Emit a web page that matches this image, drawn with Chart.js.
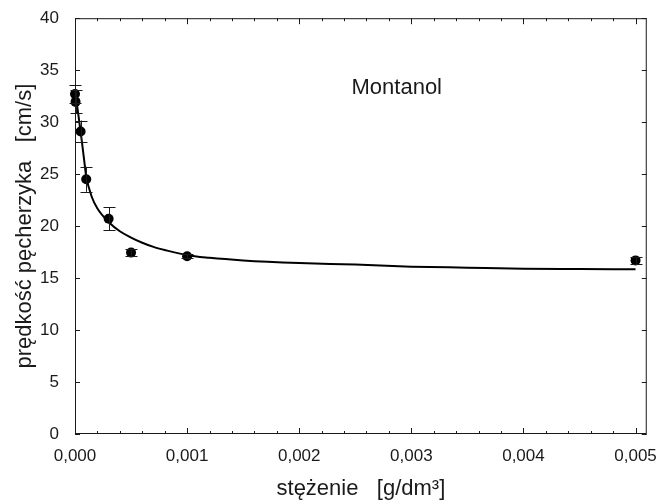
<!DOCTYPE html>
<html>
<head>
<meta charset="utf-8">
<script src="https://cdn.jsdelivr.net/npm/chart.js@4.4.0/dist/chart.umd.min.js"></script>
<style>
  body { margin: 0; background: #fff; }
  #wrap { width: 661px; height: 502px; }
</style>
</head>
<body>
<div id="wrap"><canvas id="chart" width="661" height="502"></canvas></div>
<script>
// measured points (concentration g/dm3, velocity cm/s, error)
const conc = [0, 0.000005, 0.00005, 0.0001, 0.0003, 0.0005, 0.001, 0.005];
const velocity = [32.7, 31.95, 29.1, 24.5, 20.7, 17.45, 17.1, 16.7];
const velocityErr = [0.9, 1.1, 1.05, 1.2, 1.1, 0.3, 0.2, 0.3];

// fitted curve
const fitConc = [0, 0.00001, 0.00002, 0.00005, 0.00008, 0.0001, 0.00015, 0.0002, 0.0003, 0.0004,
  0.0005, 0.0006, 0.0007, 0.0008, 0.001, 0.0012, 0.0015, 0.002, 0.0025, 0.003, 0.0035, 0.004, 0.0045, 0.005];
const fitVelocity = [33.0, 32.3, 31.5, 29.1, 26.5, 24.8, 22.8, 21.7, 20.4, 19.5,
  18.9, 18.4, 18.0, 17.7, 17.2, 16.95, 16.7, 16.45, 16.3, 16.1, 16.0, 15.9, 15.87, 15.85];

const xTicks = [0, 0.001, 0.002, 0.003, 0.004, 0.005];
const xTickLabels = ['0,000', '0,001', '0,002', '0,003', '0,004', '0,005'];
const yTicks = [0, 5, 10, 15, 20, 25, 30, 35, 40];

const FONT = "'Liberation Sans', Arial, sans-serif";
const INK = '#1a1a1a';

// frame, inward ticks, error bars and the label
const decor = {
  id: 'decor',
  afterDatasetsDraw(chart) {
    const { ctx, chartArea: a, scales: { x, y } } = chart;
    ctx.save();
    ctx.strokeStyle = INK;
    ctx.lineWidth = 1;

    // error bars
    conc.forEach((c, i) => {
      const px = Math.round(x.getPixelForValue(c)) + 0.5;
      const top = y.getPixelForValue(velocity[i] + velocityErr[i]);
      const bot = y.getPixelForValue(velocity[i] - velocityErr[i]);
      ctx.beginPath();
      ctx.moveTo(px, top); ctx.lineTo(px, bot);
      ctx.moveTo(px - 6, Math.round(top) + 0.5); ctx.lineTo(px + 6, Math.round(top) + 0.5);
      ctx.moveTo(px - 6, Math.round(bot) + 0.5); ctx.lineTo(px + 6, Math.round(bot) + 0.5);
      ctx.stroke();
    });

    // frame
    ctx.strokeRect(a.left + 0.5, a.top + 0.5, a.right - a.left - 1, a.bottom - a.top - 1);

    ctx.beginPath();
    // x ticks, bottom and top
    for (let v = 0; v <= 0.00501; v += 0.0002) {
      const px = Math.round(x.getPixelForValue(v)) + 0.5;
      const major = xTicks.some(t => Math.abs(t - v) < 1e-9);
      const len = major ? 6 : 3;
      ctx.moveTo(px, a.bottom); ctx.lineTo(px, a.bottom - len);
      ctx.moveTo(px, a.top); ctx.lineTo(px, a.top + len);
    }
    // y ticks, left and right
    yTicks.forEach(v => {
      const py = Math.round(y.getPixelForValue(v)) + 0.5;
      ctx.moveTo(a.left, py); ctx.lineTo(a.left + 5, py);
      ctx.moveTo(a.right, py); ctx.lineTo(a.right - 5, py);
    });
    ctx.stroke();

    ctx.fillStyle = INK;
    ctx.font = '22px ' + FONT;
    ctx.textAlign = 'center';
    ctx.textBaseline = 'middle';
    ctx.fillText('Montanol', x.getPixelForValue(0.00287), y.getPixelForValue(33.3));
    ctx.restore();
  }
};

new Chart(document.getElementById('chart'), {
  type: 'scatter',
  data: {
    datasets: [
      {
        label: 'fit',
        data: fitConc.map((c, i) => ({ x: c, y: fitVelocity[i] })),
        showLine: true,
        borderColor: '#000',
        borderWidth: 2,
        pointRadius: 0,
        clip: false,
        cubicInterpolationMode: 'monotone'
      },
      {
        label: 'Montanol',
        data: conc.map((c, i) => ({ x: c, y: velocity[i] })),
        pointRadius: 5,
        pointBackgroundColor: '#000',
        pointBorderColor: '#000',
        borderWidth: 0,
        clip: false
      }
    ]
  },
  plugins: [decor],
  options: {
    responsive: false,
    animation: false,
    layout: { padding: { left: 0, right: 9, top: 18, bottom: 0 } },
    plugins: { legend: { display: false }, tooltip: { enabled: false } },
    scales: {
      x: {
        type: 'linear',
        min: 0,
        max: 0.0051,
        afterFit: s => { s.height = 68; },
        afterBuildTicks: s => { s.ticks = xTicks.map(v => ({ value: v })); },
        grid: { display: false },
        border: { display: false },
        ticks: {
          padding: 4,
          color: INK,
          font: { family: FONT, size: 17 },
          maxRotation: 0,
          callback: (v) => xTickLabels[xTicks.findIndex(t => Math.abs(t - v) < 1e-9)] ?? ''
        },
        title: {
          display: true,
          text: 'stężenie   [g/dm³]',
          color: INK,
          font: { family: FONT, size: 22 },
          padding: { top: 0, bottom: 0 }
        }
      },
      y: {
        min: 0,
        max: 40,
        afterFit: s => { s.width = 75; },
        afterBuildTicks: s => { s.ticks = yTicks.map(v => ({ value: v })); },
        grid: { display: false },
        border: { display: false },
        ticks: {
          padding: 8,
          color: INK,
          font: { family: FONT, size: 17 }
        },
        title: {
          display: true,
          text: 'prędkość pęcherzyka   [cm/s]',
          color: INK,
          font: { family: FONT, size: 22 },
          padding: { top: 12, bottom: 0 }
        }
      }
    }
  }
});
</script>
</body>
</html>
